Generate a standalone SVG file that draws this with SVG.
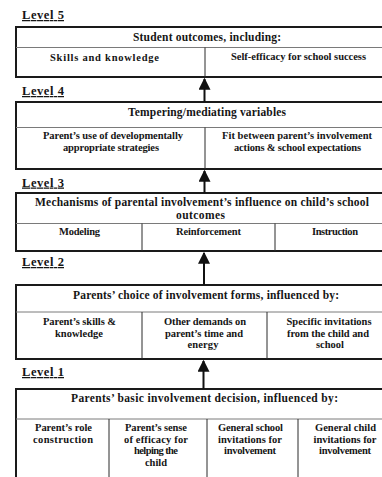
<svg xmlns="http://www.w3.org/2000/svg" width="382" height="477" viewBox="0 0 382 477">
  <style>
    text { font-family: "Liberation Serif", "Times New Roman", serif; font-weight: bold; fill: #151515; }
    .lvl { font-size: 12.5px; text-decoration: underline; }
    .ttl { font-size: 11.5px; text-anchor: middle; }
    .cell { font-size: 10.5px; text-anchor: middle; }
    .box { fill: #ffffff; stroke: #1a1a1a; stroke-width: 2; }
    .hdiv { stroke: #7a7a7a; stroke-width: 1; }
    .vdiv { stroke: #2a2a2a; stroke-width: 1; }
    .arrow { stroke: #111111; stroke-width: 2; marker-end: url(#head); }
  </style>
  <defs>
    <marker id="head" markerUnits="userSpaceOnUse" markerWidth="12" markerHeight="12" viewBox="0 0 10 10" refX="9" refY="5" orient="auto">
      <path d="M0,0 L10,5 L0,10 Z" fill="#111111"/>
    </marker>
  </defs>
  <rect width="382" height="477" fill="#ffffff"/>

  <!-- Level 5 -->
  <g id="level5">
    <text class="lvl" x="22" y="19" textLength="42">Level 5</text>
    <rect class="box" x="16" y="27" width="384" height="50"/>
    <line class="hdiv" x1="16" y1="47.5" x2="400" y2="47.5"/>
    <line class="vdiv" x1="205" y1="47.5" x2="205" y2="77"/>
    <text class="ttl" x="207" y="40.5" textLength="148">Student outcomes, including:</text>
    <text class="cell" x="104.5" y="61" textLength="109">Skills and knowledge</text>
    <text class="cell" x="298.5" y="60" textLength="135">Self-efficacy for school success</text>
  </g>

  <!-- Level 4 -->
  <g id="level4">
    <text class="lvl" x="22" y="95" textLength="42">Level 4</text>
    <rect class="box" x="16" y="102" width="384" height="67"/>
    <line class="hdiv" x1="16" y1="127.5" x2="400" y2="127.5"/>
    <line class="vdiv" x1="205" y1="127.5" x2="205" y2="169"/>
    <text class="ttl" x="207" y="116" textLength="158">Tempering/mediating variables</text>
    <text class="cell" x="113" y="139" textLength="140">Parent’s use of developmentally</text>
    <text class="cell" x="111" y="150.5" textLength="96">appropriate strategies</text>
    <text class="cell" x="297" y="139" textLength="150">Fit between parent’s involvement</text>
    <text class="cell" x="297.5" y="150.5" textLength="127">actions &amp; school expectations</text>
  </g>

  <!-- Level 3 -->
  <g id="level3">
    <text class="lvl" x="22" y="186.5" textLength="42">Level 3</text>
    <rect class="box" x="16" y="193" width="384" height="58"/>
    <line class="hdiv" x1="16" y1="223.5" x2="400" y2="223.5"/>
    <line class="vdiv" x1="142" y1="223.5" x2="142" y2="251"/>
    <line class="vdiv" x1="275" y1="223.5" x2="275" y2="251"/>
    <text class="ttl" x="202" y="206" textLength="334">Mechanisms of parental involvement’s influence on child’s school</text>
    <text class="ttl" x="200.5" y="219" textLength="49">outcomes</text>
    <text class="cell" x="79.5" y="235" textLength="41">Modeling</text>
    <text class="cell" x="208.5" y="235" textLength="65">Reinforcement</text>
    <text class="cell" x="335" y="235" textLength="46">Instruction</text>
  </g>

  <!-- Level 2 -->
  <g id="level2">
    <text class="lvl" x="22" y="266" textLength="42">Level 2</text>
    <rect class="box" x="16" y="285" width="384" height="74"/>
    <line class="hdiv" x1="16" y1="312" x2="400" y2="312"/>
    <line class="vdiv" x1="142" y1="312" x2="142" y2="359"/>
    <line class="vdiv" x1="267" y1="312" x2="267" y2="359"/>
    <text class="ttl" x="206" y="299" textLength="266">Parents’ choice of involvement forms, influenced by:</text>
    <text class="cell" x="79.5" y="325" textLength="73">Parent’s skills &amp;</text>
    <text class="cell" x="79" y="336.5" textLength="48">knowledge</text>
    <text class="cell" x="205" y="325" textLength="82">Other demands on</text>
    <text class="cell" x="204" y="336.5" textLength="78">parent’s time and</text>
    <text class="cell" x="203" y="348" textLength="31">energy</text>
    <text class="cell" x="329" y="325" textLength="85">Specific invitations</text>
    <text class="cell" x="328" y="336.5" textLength="82">from the child and</text>
    <text class="cell" x="330" y="348" textLength="28">school</text>
  </g>

  <!-- Level 1 -->
  <g id="level1">
    <text class="lvl" x="22" y="376" textLength="42">Level 1</text>
    <rect class="box" x="16" y="389" width="384" height="95"/>
    <line class="hdiv" x1="16" y1="419" x2="400" y2="419"/>
    <line class="vdiv" x1="109" y1="419" x2="109" y2="477"/>
    <line class="vdiv" x1="207" y1="419" x2="207" y2="477"/>
    <line class="vdiv" x1="298" y1="419" x2="298" y2="477"/>
    <text class="ttl" x="204.5" y="402" textLength="267">Parents’ basic involvement decision, influenced by:</text>
    <text class="cell" x="63.5" y="431" textLength="57">Parent’s role</text>
    <text class="cell" x="63" y="442.5" textLength="60">construction</text>
    <text class="cell" x="156" y="431" textLength="62">Parent’s sense</text>
    <text class="cell" x="156" y="442.5" textLength="64">of efficacy for</text>
    <text class="cell" x="156" y="454" textLength="44">helping the</text>
    <text class="cell" x="156" y="465.5" textLength="22">child</text>
    <text class="cell" x="250.5" y="431" textLength="65">General school</text>
    <text class="cell" x="250" y="442.5" textLength="64">invitations  for</text>
    <text class="cell" x="250" y="454" textLength="52">involvement</text>
    <text class="cell" x="345.5" y="431" textLength="61">General child</text>
    <text class="cell" x="345" y="442.5" textLength="63">invitations for</text>
    <text class="cell" x="345" y="454" textLength="52">involvement</text>
  </g>

  <!-- Upward arrows between levels -->
  <g id="connectors">
    <line class="arrow" x1="204.5" y1="102" x2="204.5" y2="79"/>
    <line class="arrow" x1="204.5" y1="193" x2="204.5" y2="171"/>
    <line class="arrow" x1="204" y1="285" x2="204" y2="253"/>
    <line class="arrow" x1="203.5" y1="389" x2="203.5" y2="361"/>
  </g>
</svg>
